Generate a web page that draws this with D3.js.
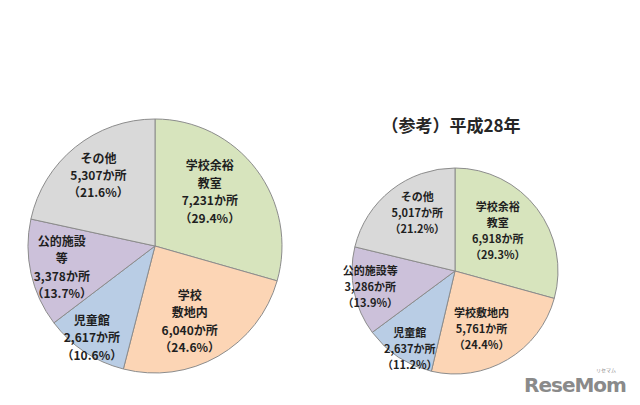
<!DOCTYPE html>
<html><head><meta charset="utf-8">
<script src="https://cdn.jsdelivr.net/npm/d3@7"></script>
<style>
html,body{margin:0;padding:0;background:#fff;}
svg{display:block;}
text{font-family:"Noto Sans CJK JP","Noto Sans",sans-serif;}
</style></head>
<body><svg id="c" width="640" height="405"></svg>
<script>
// ---- data ----
const categories = ["学校余裕教室", "学校敷地内", "児童館", "公的施設等", "その他"];
const valuesCurrent = [7231, 6040, 2617, 3378, 5307];
const percentCurrent = ["29.4", "24.6", "10.6", "13.7", "21.6"];
const valuesH28 = [6918, 5761, 2637, 3286, 5017];
const percentH28 = ["29.3", "24.4", "11.2", "13.9", "21.2"];
const labelLinesCurrent = [["学校余裕", "教室"], ["学校", "敷地内"], ["児童館"], ["公的施設", "等"], ["その他"]];
const labelLinesH28 = [["学校余裕", "教室"], ["学校敷地内"], ["児童館"], ["公的施設等"], ["その他"]];
const titleH28 = "（参考）平成28年";
const colors = ["#d7e4bd", "#fcd5b5", "#b9cde5", "#ccc1da", "#d9d9d9"];

// ---- layout ----
const svg = d3.select("#c");
const fmt = d3.format(",");
const color = d3.scaleOrdinal().domain(categories).range(colors);

function drawPie(cfg) {
  const data = categories.map((c, i) => ({cat: c, value: cfg.values[i], pct: cfg.pct[i], lines: cfg.lines[i], i}));
  const pie = d3.pie().sort(null).value(d => d.value);
  const arcs = pie(data);
  const arc = d3.arc().innerRadius(0).outerRadius(cfg.r);
  const g = svg.append("g").attr("transform", `translate(${cfg.cx},${cfg.cy})`);
  g.selectAll("path").data(arcs).join("path")
    .attr("d", arc)
    .attr("fill", d => color(d.data.cat))
    .attr("stroke", "#8c8c8c")
    .attr("stroke-width", 1);
  arcs.forEach((a, k) => {
    const f = cfg.lr[k];
    const la = d3.arc().innerRadius(cfg.r * f).outerRadius(cfg.r * f);
    const [x, y] = la.centroid(a);
    const lines = [...a.data.lines, fmt(a.data.value) + "か所", "（" + a.data.pct + "%）"];
    const n = lines.length;
    const t = g.append("text")
      .attr("text-anchor", "middle")
      .attr("font-size", cfg.fs)
      .attr("font-weight", "bold")
      .attr("fill", "#1f1f1f");
    lines.forEach((ln, j) => {
      t.append("tspan")
        .attr("x", x + cfg.dx[k])
        .attr("y", y + cfg.dy[k] + (j - (n - 1) / 2) * cfg.lh)
        .attr("dy", "0.35em")
        .text(ln);
    });
  });
}

drawPie({cx: 155, cy: 246, r: 127, values: valuesCurrent, pct: percentCurrent, lines: labelLinesCurrent,
  lr: [0.61, 0.66, 0.87, 0.76, 0.71], dx: [-7, -7, -2, 1, 0], dy: [-7, 3, 0, 1, 0], fs: 12, lh: 17.4});
drawPie({cx: 455, cy: 271, r: 103, values: valuesH28, pct: percentH28, lines: labelLinesH28,
  lr: [0.57, 0.62, 0.87, 0.83, 0.67], dx: [-4, -6, 4, -1, 5], dy: [-4, 3, 3, -1, -4], fs: 11, lh: 16});

svg.append("text").attr("x", 451).attr("y", 126).attr("dy", "0.35em")
  .attr("text-anchor", "middle").attr("font-size", 17).attr("font-weight", "bold")
  .attr("fill", "#262626").text(titleH28);

// watermark
svg.append("text").attr("x", 575).attr("y", 392).attr("text-anchor", "middle")
  .attr("font-size", 20).attr("font-weight", "bold").attr("fill", "#8a8a8a")
  .style("font-family", "'DejaVu Sans',sans-serif").attr("letter-spacing", -1).text("ReseMom");
svg.append("text").attr("x", 606).attr("y", 372).attr("text-anchor", "middle")
  .attr("font-size", 5).attr("fill", "#8a8a8a").text("リセマム");
</script></body></html>
